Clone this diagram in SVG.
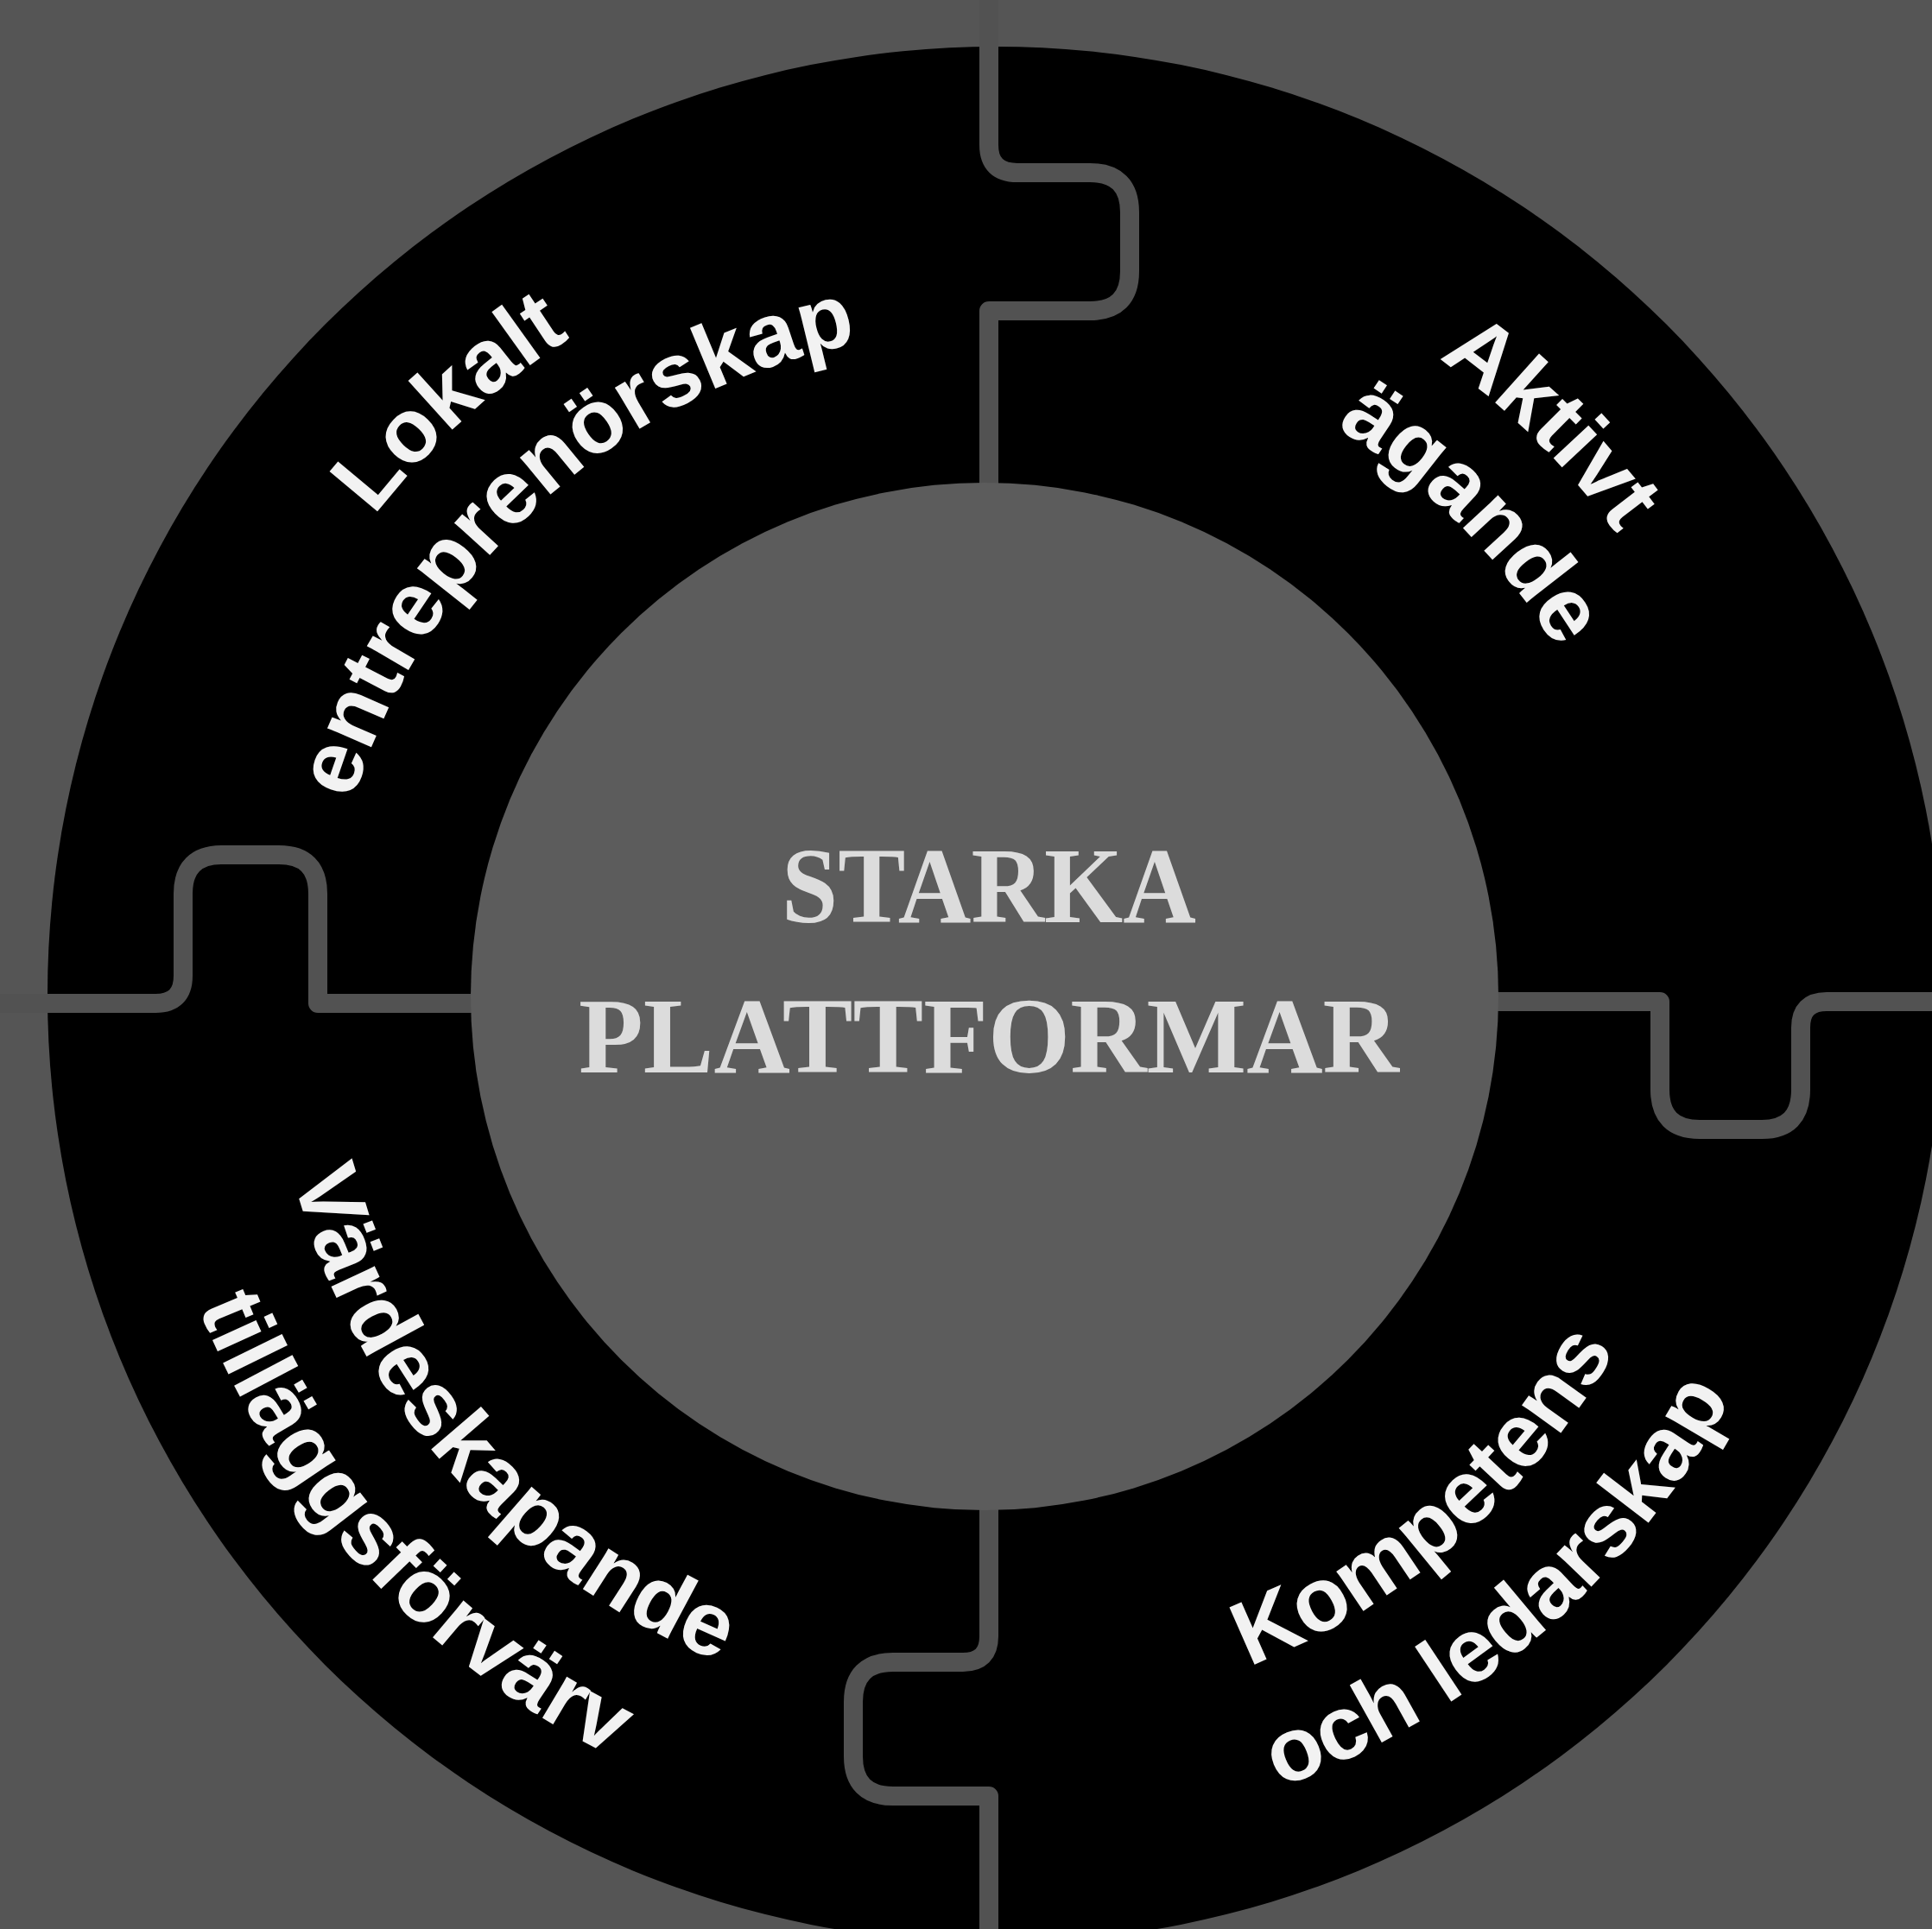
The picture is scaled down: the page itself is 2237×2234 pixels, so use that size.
<svg xmlns="http://www.w3.org/2000/svg" width="2237" height="2234" viewBox="0 0 2237 2234">
<style>
.bg{fill:#555555}
.ring{fill:#000000}
.seam{fill:none;stroke:#525252;stroke-width:22;stroke-linejoin:round;stroke-linecap:butt}
.hub{fill:#5c5c5c}
.lbl{font-family:"Liberation Sans",Arial,Helvetica,sans-serif;font-weight:bold;font-size:105px;fill:#f2f2f2}
.hubtxt{font-family:"Liberation Serif","Times New Roman",serif;font-weight:bold;font-size:124px;fill:#dcdcdc;text-anchor:middle}
</style>
<defs>
<path id="a-ul-out" d="M243.7,1188.2 A902,902 0 0 1 1265.9,258.1"/>
<path id="a-ul-in" d="M375.6,1181.6 A770,770 0 0 1 1249.5,389.1"/>
<path id="a-ur-out" d="M1058.5,254.2 A902,902 0 0 1 2044.2,1222.8"/>
<path id="a-ur-in" d="M1079.2,384.8 A770,770 0 0 1 1912.0,1220.4"/>
<path id="a-ll-in" d="M321.6,1026.0 A833,833 0 0 0 1163.9,1984.8"/>
<path id="a-ll-out" d="M169.2,1025.3 A984,984 0 0 0 1189.6,2135.0"/>
<path id="a-lr-in" d="M1011.7,1975.3 A834,834 0 0 0 1978.9,1140.4"/>
<path id="a-lr-out" d="M988.6,2117.4 A978,978 0 0 0 2122.9,1138.3"/>
</defs>
<rect class="bg" x="0" y="0" width="2237" height="2234"/>
<g id="ring">
<circle class="ring" cx="1153" cy="1152" r="1098"/>
</g>
<g id="connectors">
<path class="seam" d="M1145,0 V168 Q1145,200 1178,200 H1262 Q1308,200 1308,246 V314 Q1308,360 1262,360 H1145 V620"/>
<path class="seam" d="M0,1162 H180 Q212,1162 212,1130 V1035 Q212,990 257,990 H323 Q368,990 368,1035 V1162 H600"/>
<path class="seam" d="M1700,1160 H1922 V1262 Q1922,1308 1968,1308 H2040 Q2085,1308 2085,1262 V1190 Q2085,1160 2115,1160 H2237"/>
<path class="seam" d="M1145,1700 V1895 Q1145,1925 1115,1925 H1034 Q988,1925 988,1971 V2034 Q988,2080 1034,2080 H1145 V2234"/>
</g>
<g id="hub">
<circle class="hub" cx="1140" cy="1154" r="595"/>
<text class="hubtxt" x="1145" y="1068" textLength="480" lengthAdjust="spacingAndGlyphs">STARKA</text>
<text class="hubtxt" x="1145" y="1242" textLength="950" lengthAdjust="spacingAndGlyphs">PLATTFORMAR</text>
</g>
<g id="node-lokalt">
<text class="lbl"><textPath href="#a-ul-out" startOffset="50%" text-anchor="middle">Lokalt</textPath></text>
<text class="lbl"><textPath href="#a-ul-in" startOffset="50%" text-anchor="middle">entreprenörskap</textPath></text>
</g>
<g id="node-aktivt">
<text class="lbl"><textPath href="#a-ur-out" startOffset="50%" text-anchor="middle">Aktivt</textPath></text>
<text class="lbl"><textPath href="#a-ur-in" startOffset="50%" text-anchor="middle">ägande</textPath></text>
</g>
<g id="node-vardeskapande">
<text class="lbl"><textPath href="#a-ll-in" startOffset="50%" text-anchor="middle">Värdeskapande</textPath></text>
<text class="lbl"><textPath href="#a-ll-out" startOffset="50%" text-anchor="middle">tilläggsförvärv</textPath></text>
</g>
<g id="node-kompetens">
<text class="lbl"><textPath href="#a-lr-in" startOffset="50%" text-anchor="middle">Kompetens</textPath></text>
<text class="lbl"><textPath href="#a-lr-out" startOffset="50%" text-anchor="middle">och ledarskap</textPath></text>
</g>
</svg>
